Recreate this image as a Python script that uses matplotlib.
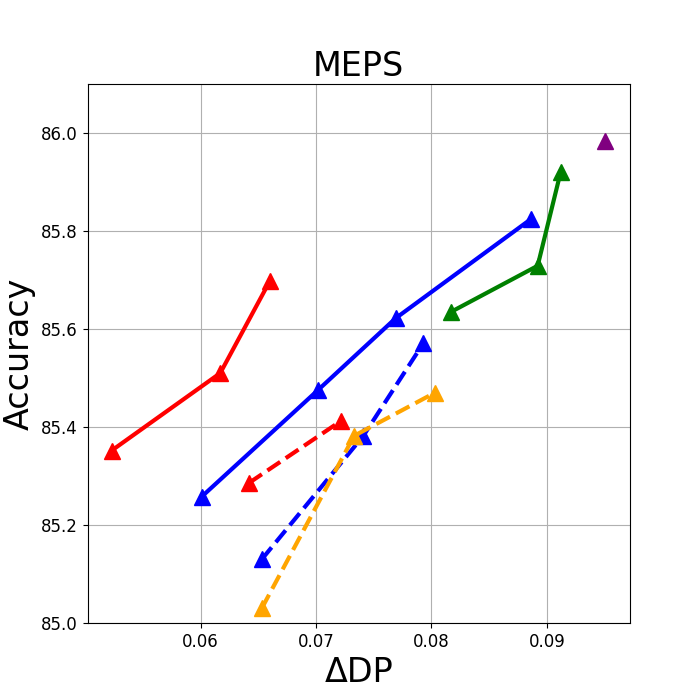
import matplotlib
matplotlib.use('Agg')
import matplotlib.pyplot as plt

# values
red_x = [0.0523, 0.0617, 0.0660]
red_y = [85.352, 85.510, 85.698]
blue_x = [0.0601, 0.0702, 0.0769, 0.0886]
blue_y = [85.258, 85.476, 85.622, 85.824]
green_x = [0.0817, 0.0892, 0.0912]
green_y = [85.635, 85.729, 85.921]
purple_x = [0.0950]
purple_y = [85.984]
red_d_x = [0.0642, 0.0722]
red_d_y = [85.286, 85.413]
blue_d_x = [0.0653, 0.0741, 0.0793]
blue_d_y = [85.130, 85.382, 85.571]
orange_d_x = [0.0653, 0.0733, 0.0803]
orange_d_y = [85.030, 85.382, 85.470]

fig, ax = plt.subplots(figsize=(7, 7), dpi=100)

ax.plot(red_x, red_y, color='red', linestyle='-', marker='^', lw=3, ms=11)
ax.plot(blue_x, blue_y, color='blue', linestyle='-', marker='^', lw=3, ms=11)
ax.plot(green_x, green_y, color='green', linestyle='-', marker='^', lw=3, ms=11)
ax.plot(purple_x, purple_y, color='purple', linestyle='-', marker='^', lw=3, ms=11)
ax.plot(red_d_x, red_d_y, color='red', linestyle='--', marker='^', lw=3, ms=11)
ax.plot(blue_d_x, blue_d_y, color='blue', linestyle='--', marker='^', lw=3, ms=11)
ax.plot(orange_d_x, orange_d_y, color='orange', linestyle='--', marker='^', lw=3, ms=11)

ax.set_xlim(0.0502, 0.0972)
ax.set_ylim(85.0, 86.1)
ax.set_xticks([0.06, 0.07, 0.08, 0.09])
ax.set_yticks([85.0, 85.2, 85.4, 85.6, 85.8, 86.0])
ax.grid(True)
ax.tick_params(labelsize=12)

ax.set_title('MEPS', fontsize=24)
ax.set_xlabel('ΔDP', fontsize=24)
ax.set_ylabel('Accuracy', fontsize=24)

plt.savefig('out.png')
